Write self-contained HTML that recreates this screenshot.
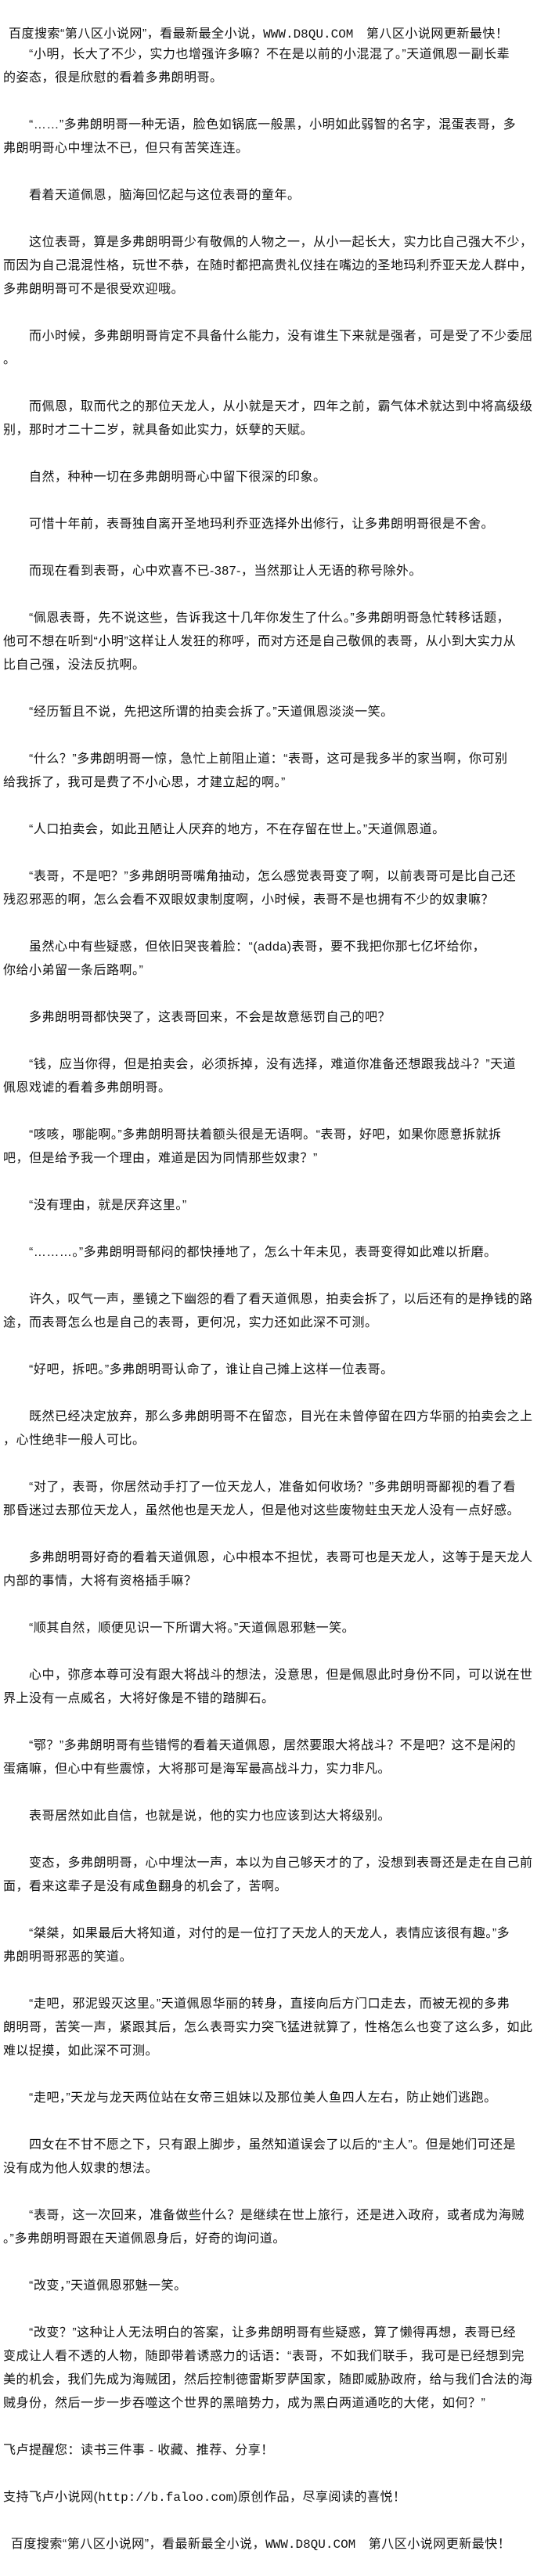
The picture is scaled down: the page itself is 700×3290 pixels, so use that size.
<!DOCTYPE html>
<html><head><meta charset="utf-8">
<style>
html,body{margin:0;padding:0;background:#fff;}
body{width:700px;height:3290px;position:relative;overflow:hidden;
font-family:"Liberation Sans","Noto Sans CJK SC",sans-serif;font-size:16px;letter-spacing:0.5px;color:#111;}
.hd{position:absolute;top:29px;left:11px;height:30px;line-height:30px;white-space:pre;}
#t{position:absolute;top:55px;left:4px;width:696px;}
#t div{height:30px;line-height:30px;white-space:pre;}
.m{font-family:"Liberation Mono","Noto Sans CJK SC",monospace;letter-spacing:0;}
</style></head><body>
<div class="hd">百度搜索“第八区小说网”，看最新最全小说，<span class="m">WWW.D8QU.COM</span>　第八区小说网更新最快！</div>
<div id="t">
<div>　　“小明，长大了不少，实力也增强许多嘛？不在是以前的小混混了。”天道佩恩一副长辈</div>
<div>的姿态，很是欣慰的看着多弗朗明哥。</div>
<div></div>
<div>　　“……”多弗朗明哥一种无语，脸色如锅底一般黑，小明如此弱智的名字，混蛋表哥，多</div>
<div>弗朗明哥心中埋汰不已，但只有苦笑连连。</div>
<div></div>
<div>　　看着天道佩恩，脑海回忆起与这位表哥的童年。</div>
<div></div>
<div>　　这位表哥，算是多弗朗明哥少有敬佩的人物之一，从小一起长大，实力比自己强大不少，</div>
<div>而因为自己混混性格，玩世不恭，在随时都把高贵礼仪挂在嘴边的圣地玛利乔亚天龙人群中，</div>
<div>多弗朗明哥可不是很受欢迎哦。</div>
<div></div>
<div>　　而小时候，多弗朗明哥肯定不具备什么能力，没有谁生下来就是强者，可是受了不少委屈</div>
<div>。</div>
<div></div>
<div>　　而佩恩，取而代之的那位天龙人，从小就是天才，四年之前，霸气体术就达到中将高级级</div>
<div>别，那时才二十二岁，就具备如此实力，妖孽的天赋。</div>
<div></div>
<div>　　自然，种种一切在多弗朗明哥心中留下很深的印象。</div>
<div></div>
<div>　　可惜十年前，表哥独自离开圣地玛利乔亚选择外出修行，让多弗朗明哥很是不舍。</div>
<div></div>
<div>　　而现在看到表哥，心中欢喜不已-387-，当然那让人无语的称号除外。</div>
<div></div>
<div>　　“佩恩表哥，先不说这些，告诉我这十几年你发生了什么。”多弗朗明哥急忙转移话题，</div>
<div>他可不想在听到“小明”这样让人发狂的称呼，而对方还是自己敬佩的表哥，从小到大实力从</div>
<div>比自己强，没法反抗啊。</div>
<div></div>
<div>　　“经历暂且不说，先把这所谓的拍卖会拆了。”天道佩恩淡淡一笑。</div>
<div></div>
<div>　　“什么？”多弗朗明哥一惊，急忙上前阻止道：“表哥，这可是我多半的家当啊，你可别</div>
<div>给我拆了，我可是费了不小心思，才建立起的啊。”</div>
<div></div>
<div>　　“人口拍卖会，如此丑陋让人厌弃的地方，不在存留在世上。”天道佩恩道。</div>
<div></div>
<div>　　“表哥，不是吧？”多弗朗明哥嘴角抽动，怎么感觉表哥变了啊，以前表哥可是比自己还</div>
<div>残忍邪恶的啊，怎么会看不双眼奴隶制度啊，小时候，表哥不是也拥有不少的奴隶嘛？</div>
<div></div>
<div>　　虽然心中有些疑惑，但依旧哭丧着脸：“(adda)表哥，要不我把你那七亿坏给你，</div>
<div>你给小弟留一条后路啊。”</div>
<div></div>
<div>　　多弗朗明哥都快哭了，这表哥回来，不会是故意惩罚自己的吧？</div>
<div></div>
<div>　　“钱，应当你得，但是拍卖会，必须拆掉，没有选择，难道你准备还想跟我战斗？”天道</div>
<div>佩恩戏谑的看着多弗朗明哥。</div>
<div></div>
<div>　　“咳咳，哪能啊。”多弗朗明哥扶着额头很是无语啊。“表哥，好吧，如果你愿意拆就拆</div>
<div>吧，但是给予我一个理由，难道是因为同情那些奴隶？”</div>
<div></div>
<div>　　“没有理由，就是厌弃这里。”</div>
<div></div>
<div>　　“………。”多弗朗明哥郁闷的都快捶地了，怎么十年未见，表哥变得如此难以折磨。</div>
<div></div>
<div>　　许久，叹气一声，墨镜之下幽怨的看了看天道佩恩，拍卖会拆了，以后还有的是挣钱的路</div>
<div>途，而表哥怎么也是自己的表哥，更何况，实力还如此深不可测。</div>
<div></div>
<div>　　“好吧，拆吧。”多弗朗明哥认命了，谁让自己摊上这样一位表哥。</div>
<div></div>
<div>　　既然已经决定放弃，那么多弗朗明哥不在留恋，目光在未曾停留在四方华丽的拍卖会之上</div>
<div>，心性绝非一般人可比。</div>
<div></div>
<div>　　“对了，表哥，你居然动手打了一位天龙人，准备如何收场？”多弗朗明哥鄙视的看了看</div>
<div>那昏迷过去那位天龙人，虽然他也是天龙人，但是他对这些废物蛀虫天龙人没有一点好感。</div>
<div></div>
<div>　　多弗朗明哥好奇的看着天道佩恩，心中根本不担忧，表哥可也是天龙人，这等于是天龙人</div>
<div>内部的事情，大将有资格插手嘛？</div>
<div></div>
<div>　　“顺其自然，顺便见识一下所谓大将。”天道佩恩邪魅一笑。</div>
<div></div>
<div>　　心中，弥彦本尊可没有跟大将战斗的想法，没意思，但是佩恩此时身份不同，可以说在世</div>
<div>界上没有一点威名，大将好像是不错的踏脚石。</div>
<div></div>
<div>　　“鄂？”多弗朗明哥有些错愕的看着天道佩恩，居然要跟大将战斗？不是吧？这不是闲的</div>
<div>蛋痛嘛，但心中有些震惊，大将那可是海军最高战斗力，实力非凡。</div>
<div></div>
<div>　　表哥居然如此自信，也就是说，他的实力也应该到达大将级别。</div>
<div></div>
<div>　　变态，多弗朗明哥，心中埋汰一声，本以为自己够天才的了，没想到表哥还是走在自己前</div>
<div>面，看来这辈子是没有咸鱼翻身的机会了，苦啊。</div>
<div></div>
<div>　　“桀桀，如果最后大将知道，对付的是一位打了天龙人的天龙人，表情应该很有趣。”多</div>
<div>弗朗明哥邪恶的笑道。</div>
<div></div>
<div>　　“走吧，邪泥毁灭这里。”天道佩恩华丽的转身，直接向后方门口走去，而被无视的多弗</div>
<div>朗明哥，苦笑一声，紧跟其后，怎么表哥实力突飞猛进就算了，性格怎么也变了这么多，如此</div>
<div>难以捉摸，如此深不可测。</div>
<div></div>
<div>　　“走吧，”天龙与龙天两位站在女帝三姐妹以及那位美人鱼四人左右，防止她们逃跑。</div>
<div></div>
<div>　　四女在不甘不愿之下，只有跟上脚步，虽然知道误会了以后的“主人”。但是她们可还是</div>
<div>没有成为他人奴隶的想法。</div>
<div></div>
<div>　　“表哥，这一次回来，准备做些什么？是继续在世上旅行，还是进入政府，或者成为海贼</div>
<div>。”多弗朗明哥跟在天道佩恩身后，好奇的询问道。</div>
<div></div>
<div>　　“改变，”天道佩恩邪魅一笑。</div>
<div></div>
<div>　　“改变？”这种让人无法明白的答案，让多弗朗明哥有些疑惑，算了懒得再想，表哥已经</div>
<div>变成让人看不透的人物，随即带着诱惑力的话语：“表哥，不如我们联手，我可是已经想到完</div>
<div>美的机会，我们先成为海贼团，然后控制德雷斯罗萨国家，随即威胁政府，给与我们合法的海</div>
<div>贼身份，然后一步一步吞噬这个世界的黑暗势力，成为黑白两道通吃的大佬，如何？”</div>
<div></div>
<div>飞卢提醒您：读书三件事 - 收藏、推荐、分享！</div>
<div></div>
<div>支持飞卢小说网(<span class="m">http://b.faloo.com</span>)原创作品，尽享阅读的喜悦！</div>
<div></div>
<div>  百度搜索“第八区小说网”，看最新最全小说，<span class="m">WWW.D8QU.COM</span>　第八区小说网更新最快！</div>
</div>
</body></html>
